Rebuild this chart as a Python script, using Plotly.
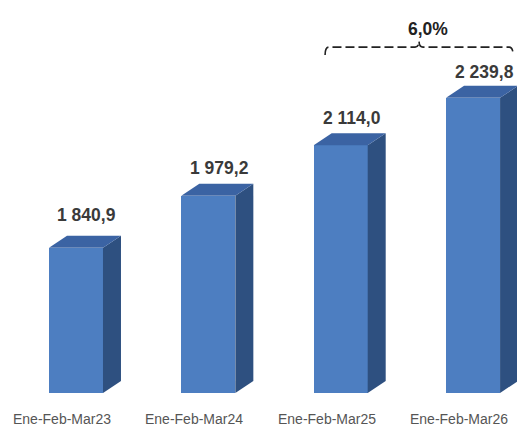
import plotly.graph_objects as go

# ---- data ----
categories = ["Ene-Feb-Mar23", "Ene-Feb-Mar24", "Ene-Feb-Mar25", "Ene-Feb-Mar26"]
values = [1840.9, 1979.2, 2114.0, 2239.8]
value_labels = ["1 840,9", "1 979,2", "2 114,0", "2 239,8"]

# ---- style / geometry ----
Y0 = 1455          # axis floor
Y1 = 2500          # axis top
W = 0.408          # bar front width (x units)
DX = 0.136         # 3D depth, x units
DY = 32            # 3D depth, y units
FRONT = "#4D7EC1"
TOP = "#3B63A3"
SIDE = "#2E5080"
TXT = "#3A3A3A"
FONT = "Liberation Sans, Arial, sans-serif"
label_shift = [33, 28, 27, 26]

fig = go.Figure()
xs = list(range(len(values)))

# side faces
for i, v in zip(xs, values):
    xr = i + W / 2
    fig.add_trace(go.Scatter(
        x=[xr, xr, xr + DX, xr + DX, xr],
        y=[Y0, v, v + DY, Y0 + DY, Y0],
        fill="toself", fillcolor=SIDE, mode="lines",
        line=dict(width=0, color=SIDE), hoverinfo="skip", showlegend=False))
# top faces
for i, v in zip(xs, values):
    xl, xr = i - W / 2, i + W / 2
    fig.add_trace(go.Scatter(
        x=[xl, xr, xr + DX, xl + DX, xl],
        y=[v, v, v + DY, v + DY, v],
        fill="toself", fillcolor=TOP, mode="lines",
        line=dict(width=0, color=TOP), hoverinfo="skip", showlegend=False))
# front faces
fig.add_trace(go.Bar(
    x=xs, y=[v - Y0 for v in values], base=Y0, width=W,
    marker=dict(color=FRONT, line=dict(width=0)), showlegend=False, hoverinfo="skip"))

# value labels
for i, v, t, s in zip(xs, values, value_labels, label_shift):
    fig.add_annotation(x=i, y=v, text="<b>%s</b>" % t, showarrow=False,
                       xshift=11, yshift=s, yanchor="middle",
                       font=dict(family=FONT, size=17.5, color=TXT))
# category labels
for i, c in zip(xs, categories):
    fig.add_annotation(x=i, y=0, yref="paper", text=c, showarrow=False,
                       xshift=-14, yshift=-26, yanchor="middle",
                       font=dict(family=FONT, size=14, color="#555555"))

# growth bracket between last two bars
growth = (values[-1] / values[-2] - 1) * 100
g_txt = ("%.1f%%" % growth).replace(".", ",")
bl = xs[-2] - W / 2 + 0.086
br = xs[-1] + W / 2 + DX - 0.038
by = max(values) + 135
mid = (bl + br) / 2
hook = 21
hx = 0.03
pk = 16
path = (f"M {bl},{by - hook} Q {bl},{by} {bl + hx},{by} "
        f"L {mid - hx},{by} Q {mid},{by} {mid},{by + pk} "
        f"Q {mid},{by} {mid + hx},{by} "
        f"L {br - hx},{by} Q {br},{by} {br},{by - hook}")
fig.add_shape(type="path", path=path, xref="x", yref="y",
              line=dict(color="#222222", width=1.6, dash="9px,4px"))
fig.add_annotation(x=mid, y=by, text="<b>%s</b>" % g_txt, showarrow=False,
                   xshift=9, yshift=18, yanchor="middle",
                   font=dict(family=FONT, size=17.5, color="#222222"))

fig.update_layout(
    width=517, height=430,
    margin=dict(l=0, r=0, t=0, b=37),
    paper_bgcolor="white", plot_bgcolor="white",
    bargap=0, showlegend=False,
    xaxis=dict(range=[-0.574, 3.332], visible=False, fixedrange=True),
    yaxis=dict(range=[Y0, Y1], visible=False, fixedrange=True),
)
fig.write_html("out.html", config={"displayModeBar": False},
               post_script="document.body.style.margin='0';document.body.style.overflow='hidden';")
